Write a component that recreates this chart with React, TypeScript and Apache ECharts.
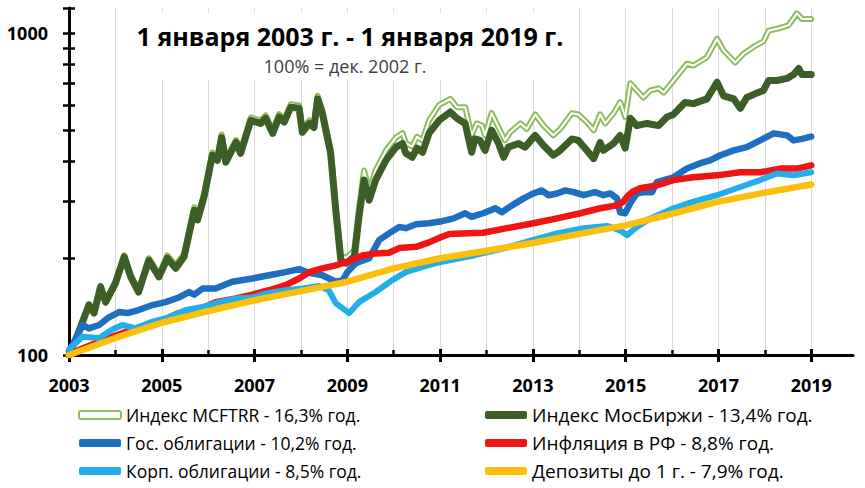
import React, { useEffect, useRef } from 'react';
import * as echarts from 'echarts';

const NAMES = [
  'Индекс MCFTRR - 16,3% год.',
  'Индекс МосБиржи - 13,4% год.',
  'Гос. облигации - 10,2% год.',
  'Инфляция в РФ - 8,8% год.',
  'Корп. облигации - 8,5% год.',
  'Депозиты до 1 г. - 7,9% год.',
];

const COLORS = ['#8fbc5f', '#3d5f27', '#1f6fc0', '#f01414', '#22aee8', '#fbbf0c'];

// [year, value]
const mcftrr: [number, number][] = [
  [2003.0, 100], [2003.2, 117], [2003.43, 144], [2003.54, 136], [2003.68, 164], [2003.79, 147], [2004.0, 169],
  [2004.19, 204], [2004.33, 177], [2004.5, 159], [2004.72, 200], [2004.94, 178], [2005.12, 204], [2005.3, 190],
  [2005.48, 206], [2005.7, 288], [2005.77, 268], [2005.91, 316], [2006.09, 426], [2006.2, 411], [2006.29, 485],
  [2006.38, 406], [2006.6, 467], [2006.7, 432], [2006.92, 548], [2007.13, 536], [2007.24, 556], [2007.39, 499],
  [2007.53, 561], [2007.64, 541], [2007.78, 602], [2007.96, 597], [2008.03, 503], [2008.18, 536], [2008.28, 521],
  [2008.36, 640], [2008.46, 577], [2008.64, 435], [2008.75, 291], [2008.86, 204], [2008.97, 200], [2009.15, 212],
  [2009.25, 285], [2009.36, 375], [2009.47, 325], [2009.61, 375], [2009.83, 432], [2010.05, 475], [2010.19, 490],
  [2010.26, 456], [2010.4, 445], [2010.5, 477], [2010.62, 465], [2010.76, 536], [2010.98, 600], [2011.22, 626],
  [2011.36, 590], [2011.54, 590], [2011.68, 482], [2011.79, 525], [2011.9, 517], [2011.97, 482], [2012.11, 565],
  [2012.26, 510], [2012.4, 465], [2012.51, 493], [2012.73, 525], [2012.87, 505], [2013.05, 560], [2013.23, 517],
  [2013.44, 482], [2013.59, 505], [2013.84, 565], [2013.98, 560], [2014.16, 530], [2014.31, 500], [2014.45, 560],
  [2014.56, 525], [2014.74, 565], [2014.88, 612], [2014.99, 550], [2015.1, 700], [2015.24, 665], [2015.38, 632],
  [2015.53, 665], [2015.71, 675], [2015.82, 655], [2016.03, 714], [2016.32, 805], [2016.46, 795], [2016.75, 843],
  [2016.97, 963], [2017.11, 885], [2017.36, 812], [2017.54, 865], [2017.8, 917], [2017.97, 945], [2018.08, 1020],
  [2018.33, 1040], [2018.51, 1060], [2018.69, 1155], [2018.8, 1110], [2019.0, 1110],
];

const moex: [number, number][] = [
  [2003.0, 100], [2003.2, 117], [2003.43, 143], [2003.54, 135], [2003.68, 163], [2003.79, 146], [2004.0, 167],
  [2004.19, 202], [2004.33, 175], [2004.5, 157], [2004.72, 197], [2004.94, 175], [2005.12, 200], [2005.3, 186],
  [2005.48, 202], [2005.7, 282], [2005.77, 263], [2005.91, 310], [2006.09, 418], [2006.2, 403], [2006.29, 475],
  [2006.38, 398], [2006.6, 458], [2006.7, 424], [2006.92, 537], [2007.13, 525], [2007.24, 545], [2007.39, 489],
  [2007.53, 550], [2007.64, 530], [2007.78, 590], [2007.96, 585], [2008.03, 493], [2008.18, 525], [2008.28, 510],
  [2008.36, 626], [2008.46, 565], [2008.64, 424], [2008.75, 282], [2008.86, 197], [2008.97, 193], [2009.15, 202],
  [2009.25, 269], [2009.36, 350], [2009.47, 303], [2009.61, 350], [2009.83, 403], [2010.05, 443], [2010.19, 455],
  [2010.26, 424], [2010.4, 412], [2010.5, 440], [2010.62, 427], [2010.76, 489], [2010.98, 537], [2011.22, 570],
  [2011.36, 545], [2011.54, 525], [2011.68, 427], [2011.75, 470], [2011.86, 465], [2011.97, 433], [2012.11, 500],
  [2012.26, 455], [2012.37, 412], [2012.47, 443], [2012.69, 455], [2012.83, 443], [2013.05, 482], [2013.23, 448],
  [2013.44, 418], [2013.59, 433], [2013.84, 470], [2013.98, 465], [2014.16, 433], [2014.31, 408], [2014.45, 458],
  [2014.52, 433], [2014.74, 455], [2014.88, 482], [2014.99, 440], [2015.1, 545], [2015.24, 517], [2015.46, 525],
  [2015.71, 517], [2015.89, 550], [2016.03, 560], [2016.28, 610], [2016.46, 605], [2016.75, 626], [2016.97, 705],
  [2017.11, 640], [2017.33, 626], [2017.47, 585], [2017.61, 632], [2017.8, 650], [2017.97, 665], [2018.08, 714],
  [2018.26, 714], [2018.48, 725], [2018.62, 745], [2018.73, 778], [2018.8, 745], [2019.0, 745],
];

const gov: [number, number][] = [
  [2003.0, 103], [2003.15, 112], [2003.29, 124], [2003.43, 121], [2003.65, 124], [2003.86, 131], [2004.08, 136],
  [2004.26, 135], [2004.5, 138], [2004.8, 143], [2005.08, 146], [2005.37, 151], [2005.59, 157], [2005.7, 154],
  [2005.88, 161], [2006.16, 161], [2006.52, 169], [2006.95, 173], [2007.31, 177], [2007.67, 181], [2007.96, 185],
  [2008.18, 180], [2008.46, 177], [2008.75, 169], [2008.9, 171], [2009.0, 181], [2009.18, 193], [2009.47, 200],
  [2009.69, 228], [2009.9, 239], [2010.12, 250], [2010.26, 248], [2010.48, 255], [2010.76, 257], [2011.0, 260],
  [2011.29, 266], [2011.54, 276], [2011.68, 269], [2011.93, 276], [2012.19, 286], [2012.33, 278], [2012.55, 292],
  [2012.8, 307], [2013.01, 318], [2013.19, 325], [2013.34, 314], [2013.52, 318], [2013.7, 325], [2013.88, 321],
  [2014.09, 314], [2014.34, 321], [2014.52, 314], [2014.67, 318], [2014.81, 307], [2014.88, 278], [2014.99, 276],
  [2015.1, 297], [2015.24, 318], [2015.39, 321], [2015.57, 321], [2015.67, 345], [2015.82, 350], [2016.03, 357],
  [2016.32, 380], [2016.61, 395], [2016.82, 403], [2017.04, 418], [2017.33, 433], [2017.61, 443], [2017.9, 465],
  [2018.19, 489], [2018.48, 482], [2018.62, 465], [2018.8, 470], [2019.0, 478],
];

const inflation: [number, number][] = [
  [2003.0, 100], [2003.3, 105], [2003.72, 111], [2004.44, 121], [2005.0, 128], [2005.37, 135], [2005.88, 140],
  [2006.16, 146], [2006.6, 150], [2006.95, 154], [2007.31, 159], [2007.67, 165], [2007.96, 173], [2008.18, 181],
  [2008.46, 186], [2008.75, 190], [2009.0, 195], [2009.32, 204], [2009.61, 207], [2009.9, 208], [2010.12, 215],
  [2010.48, 217], [2010.76, 224], [2011.0, 232], [2011.2, 238], [2011.6, 239], [2011.93, 240], [2012.44, 248],
  [2013.01, 257], [2013.52, 266], [2014.02, 276], [2014.45, 286], [2014.81, 292], [2014.95, 300], [2015.04, 312],
  [2015.15, 322], [2015.31, 330], [2015.67, 337], [2016.03, 350], [2016.46, 357], [2016.97, 362], [2017.47, 370],
  [2017.9, 370], [2018.33, 380], [2018.69, 380], [2019.0, 389],
];

const corp: [number, number][] = [
  [2003.0, 104], [2003.29, 114], [2003.65, 113], [2003.93, 120], [2004.15, 124], [2004.44, 121], [2004.8, 127],
  [2005.16, 131], [2005.52, 138], [2005.88, 141], [2006.24, 146], [2006.6, 150], [2006.95, 151], [2007.31, 156],
  [2007.67, 159], [2008.03, 161], [2008.39, 164], [2008.6, 159], [2008.75, 145], [2009.04, 135], [2009.25, 146],
  [2009.61, 157], [2009.97, 171], [2010.26, 181], [2010.62, 188], [2010.91, 193], [2011.2, 197], [2011.72, 204],
  [2012.44, 216], [2013.01, 228], [2013.52, 239], [2014.09, 248], [2014.6, 252], [2014.88, 244], [2015.03, 236],
  [2015.24, 250], [2015.53, 266], [2016.03, 286], [2016.46, 300], [2016.97, 314], [2017.47, 333], [2017.9, 350],
  [2018.26, 367], [2018.62, 362], [2019.0, 370],
];

const deposits: [number, number][] = [
  [2003.0, 100], [2004.0, 113], [2005.0, 126], [2006.0, 137], [2007.0, 148], [2008.0, 158], [2009.0, 169],
  [2010.0, 186], [2011.0, 200], [2012.0, 211], [2013.0, 223], [2014.0, 238], [2015.0, 253], [2016.0, 275],
  [2017.0, 300], [2018.0, 320], [2019.0, 339],
];

const X_MIN = 2003;
const X_MAX = 2019.9;
const xLabelYears = [2003, 2005, 2007, 2009, 2011, 2013, 2015, 2017, 2019];
const xGridYears = [2004, 2005, 2006, 2007, 2008, 2009, 2010, 2011, 2012, 2013, 2014, 2015, 2016, 2017, 2018, 2019];
const Y_MIN = 100;
const Y_MAX = 1200;
const yTickValues = [100, 200, 300, 400, 500, 600, 700, 800, 900, 1000, 1200];

const TITLE = '1 января 2003 г. - 1 января 2019 г.';
const SUBTITLE = '100% = дек. 2002 г.';

const FONT = '"Open Sans", "Noto Sans", sans-serif';

function line(name: string, data: [number, number][], color: string, width: number) {
  return {
    type: 'line',
    name,
    data,
    color,
    showSymbol: false,
    symbol: 'none',
    silent: true,
    lineStyle: { color, width, join: 'round', cap: 'round' },
    emphasis: { disabled: true },
  };
}

export default function App() {
  const ref = useRef<HTMLDivElement>(null);
  useEffect(() => {
    const chart = echarts.init(ref.current!, null, { renderer: 'svg' });
    const legendBase = {
      orient: 'vertical',
      top: 405,
      padding: 0,
      itemWidth: 42,
      itemHeight: 8,
      itemGap: 8,
      height: 80,
      selectedMode: false,
    };
    chart.setOption({
      animation: false,
      backgroundColor: '#fff',
      grid: { left: 69, right: 12, top: 8, bottom: 133, outerBoundsMode: 'none' },
      xAxis: [
        {
          type: 'value',
          min: X_MIN,
          max: X_MAX,
          interval: 1,
          axisLine: { show: true, lineStyle: { color: '#000', width: 3 } },
          axisTick: { show: true, customValues: xGridYears, inside: true, length: 5, lineStyle: { color: '#000', width: 2.5 } },
          axisLabel: {
            customValues: xLabelYears,
            formatter: (v: number) => String(Math.round(v)),
            fontSize: 18,
            fontWeight: 'bold',
            fontFamily: FONT,
            color: '#000',
            margin: 21,
          },
          splitLine: { show: true, lineStyle: { color: '#d9d9d9', width: 1 } },
        },
        {
          type: 'value',
          position: 'bottom',
          min: X_MIN,
          max: X_MAX,
          interval: 1,
          offset: -6,
          axisLine: { show: false },
          axisTick: { show: true, customValues: xLabelYears, length: 13, lineStyle: { color: '#000', width: 3 } },
          axisLabel: { show: false },
          splitLine: { show: false },
        },
      ],
      yAxis: [
        {
          type: 'log',
          logBase: 10,
          min: Y_MIN,
          max: Y_MAX,
          axisLine: { show: true, lineStyle: { color: '#000', width: 3 } },
          axisTick: { show: false },
          axisLabel: {
            showMaxLabel: false,
            formatter: (v: number) => String(Math.round(v)),
            fontSize: 18,
            fontWeight: 'bold',
            fontFamily: FONT,
            color: '#000',
            margin: 21,
          },
          splitLine: { show: false },
        },
        {
          type: 'value',
          position: 'left',
          min: Math.log10(Y_MIN),
          max: Math.log10(Y_MAX),
          offset: -6,
          axisLine: { show: false },
          axisTick: { show: true, customValues: yTickValues.map((v) => Math.log10(v)), length: 12, lineStyle: { color: '#000', width: 2.5 } },
          axisLabel: { show: false },
          splitLine: { show: false },
        },
      ],
      legend: [
        {
          ...legendBase,
          left: 78,
          textStyle: { fontSize: 17.5, fontFamily: FONT, color: '#000', lineHeight: 20 },
          data: [
            { name: NAMES[0], icon: 'roundRect', itemStyle: { color: '#fff', borderColor: COLORS[0], borderWidth: 2 } },
            { name: NAMES[2], icon: 'roundRect' },
            { name: NAMES[4], icon: 'roundRect' },
          ],
        },
        {
          ...legendBase,
          left: 485,
          textStyle: { fontSize: 19, fontFamily: FONT, color: '#000', lineHeight: 20 },
          data: [
            { name: NAMES[1], icon: 'roundRect' },
            { name: NAMES[3], icon: 'roundRect' },
            { name: NAMES[5], icon: 'roundRect' },
          ],
        },
      ],
      graphic: [
        { type: 'rect', z: 1, shape: { x: 125, y: 13, width: 450, height: 67 }, style: { fill: '#fff' }, silent: true },
        {
          type: 'text',
          z: 10,
          x: 350,
          y: 36,
          style: { text: TITLE, fill: '#000', fontSize: 25, fontWeight: 'bold', fontFamily: FONT, align: 'center', verticalAlign: 'middle' },
        },
        {
          type: 'text',
          z: 10,
          x: 345,
          y: 66,
          style: { text: SUBTITLE, fill: '#404040', fontSize: 18, fontFamily: FONT, align: 'center', verticalAlign: 'middle' },
        },
      ],
      series: [
        line(NAMES[0], mcftrr, COLORS[0], 6),
        line('MCFTRR-inner', mcftrr, '#ffffff', 2),
        line(NAMES[1], moex, COLORS[1], 7),
        line(NAMES[2], gov, COLORS[2], 6.5),
        line(NAMES[3], inflation, COLORS[3], 6.5),
        line(NAMES[4], corp, COLORS[4], 6),
        line(NAMES[5], deposits, COLORS[5], 6.5),
      ],
    });
    return () => chart.dispose();
  }, []);
  return <div ref={ref} style={{ position: 'fixed', left: 0, top: 0, width: 865, height: 488, background: '#fff' }} />;
}
